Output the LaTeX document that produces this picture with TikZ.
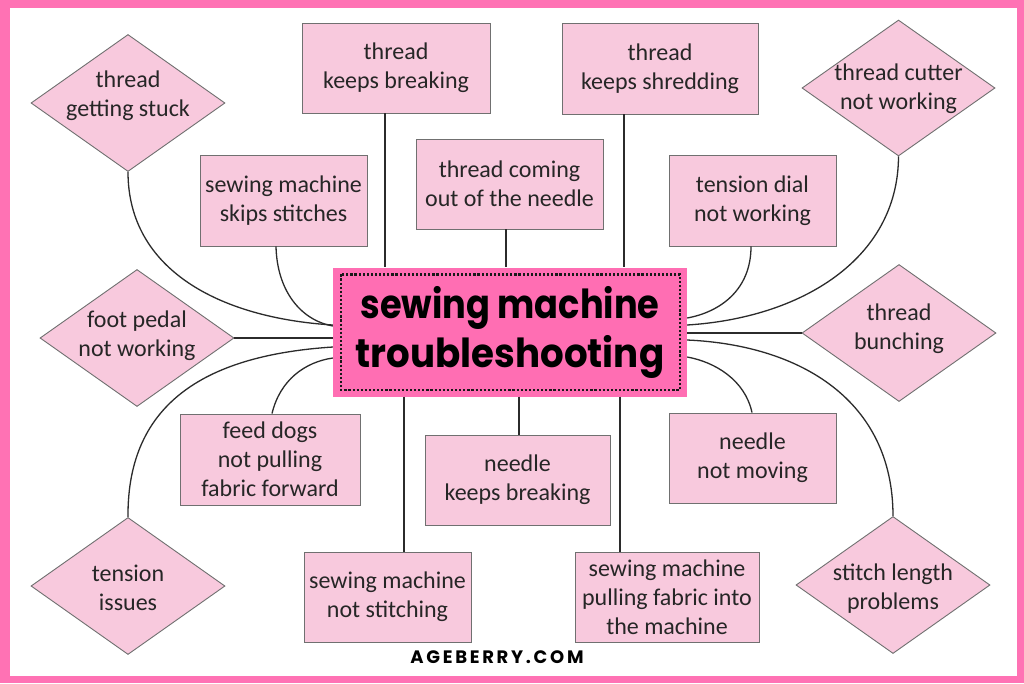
\documentclass[tikz,border=0pt]{standalone}
\usepackage{fontspec}
\usepackage{graphicx}
\setmainfont{Carlito}
\newfontfamily\titlefont{Poppins}
\usetikzlibrary{shapes.geometric}
\definecolor{framepink}{HTML}{FF72B4}
\definecolor{boxpink}{HTML}{FF6EB3}
\definecolor{nodepink}{HTML}{F8C9DD}
\definecolor{edgegray}{HTML}{707070}
\definecolor{linegray}{HTML}{2B2B2B}
\definecolor{txt}{HTML}{262626}
\tikzset{
  rbox/.style={draw=edgegray, line width=0.9pt, fill=nodepink, inner sep=0pt,
    align=center, text=txt, font=\fontsize{24}{29}\selectfont},
  dbox/.style={diamond, draw=edgegray, line width=0.9pt, fill=nodepink, inner sep=0pt,
    minimum width=194pt, minimum height=137pt},
  dlab/.style={align=center, text=txt, font=\fontsize{24}{29}\selectfont},
  conn/.style={draw=linegray, line width=1.3pt},
  mainbox/.style={fill=boxpink, inner sep=0pt, minimum width=354pt, minimum height=129pt,
    align=center, text=black, font=\titlefont\bfseries\fontsize{40}{50}\selectfont},
  dots/.style={draw=black!90, line width=2.4pt, dash pattern=on 2.2pt off 1.9pt}
}
\begin{document}
\begin{tikzpicture}[x=1pt,y=-1pt]
\useasboundingbox (0,0) rectangle (1024,683);
\fill[framepink] (0,0) rectangle (1024,683);
\fill[white] (10,8) rectangle (1017,676);

% central node
\node[mainbox] (main) at (510,332)
  {\scalebox{0.88}[1]{sewing machine}\\[-1pt]\scalebox{0.93}[1]{troubleshooting}};
\draw[dots] ([shift={(8,7)}]main.north west) rectangle ([shift={(-7,-7)}]main.south east);

% rectangles
\node[rbox, minimum width=188pt, minimum height=90pt] (tkb) at (396,68) {thread\\keeps breaking};
\node[rbox, minimum width=196pt, minimum height=91pt] (tks) at (660,68.5) {thread\\keeps shredding};
\node[rbox, minimum width=167pt, minimum height=91pt] (ssk) at (283.5,200.5) {sewing machine\\skips stitches};
\node[rbox, minimum width=187pt, minimum height=90pt] (tco) at (509.5,184) {thread coming\\out of the needle};
\node[rbox, minimum width=167pt, minimum height=91pt] (tdn) at (752.5,200.5) {tension dial\\not working};
\node[rbox, minimum width=180pt, minimum height=91pt] (fdg) at (270,459.5) {feed dogs\\not pulling\\fabric forward};
\node[rbox, minimum width=185pt, minimum height=90pt] (nkb) at (517.5,480) {needle\\keeps breaking};
\node[rbox, minimum width=167pt, minimum height=90pt] (nnm) at (752.5,458) {needle\\not moving};
\node[rbox, minimum width=167pt, minimum height=90pt] (sns) at (387.5,597) {sewing machine\\not stitching};
\node[rbox, minimum width=184pt, minimum height=90pt] (spf) at (667,597) {sewing machine\\pulling fabric into\\the machine};

% diamonds
\node[dbox] (tgs) at (128,103) {};
\node[dlab] (tgsl) at (128,96) {thread\\getting stuck};
\node[dbox, minimum width=193pt, minimum height=136pt] (tcn) at (898.5,88) {};
\node[dlab] (tcnl) at (898.5,89) {thread cutter\\not working};
\node[dbox] (fpn) at (137,338) {};
\node[dlab] (fpnl) at (137,336) {foot pedal\\not working};
\node[dbox] (tbn) at (899,333) {};
\node[dlab] (tbnl) at (899,328.5) {thread\\bunching};
\node[dbox] (tis) at (128,586) {};
\node[dlab] (tisl) at (128,588) {tension\\issues};
\node[dbox] (slp) at (893,585) {};
\node[dlab] (slpl) at (893,588.5) {stitch length\\problems};

% straight vertical connectors
\draw[conn] (385,0 |- tkb.south) -- (385,0 |- main.north);
\draw[conn] (506,0 |- tco.south) -- (506,0 |- main.north);
\draw[conn] (624,0 |- tks.south) -- (624,0 |- main.north);
\draw[conn] (519,0 |- main.south) -- (519,0 |- nkb.north);
\draw[conn] (404,0 |- main.south) -- (404,0 |- sns.north);
\draw[conn] (620,0 |- main.south) -- (620,0 |- spf.north);

% horizontal connectors
\draw[conn] (fpn.east) -- (main.west |- fpn.east);
\draw[conn] (tbn.west) -- (main.east |- tbn.west);

% curved connectors left
\draw[conn] (tgs.south) .. controls (128,270) and (220,318) .. (main.west |- 0,325);
\draw[conn] (276,0 |- ssk.south) .. controls (277,290) and (300,320) .. (main.west |- 0,326);
\draw[conn] (tis.north) .. controls (127,400) and (210,355) .. (main.west |- 0,347);
\draw[conn] (272,0 |- fdg.north) .. controls (280,380) and (305,362) .. (main.west |- 0,358);

% curved connectors right
\draw[conn] (751,0 |- tdn.south) .. controls (751,290) and (720,312) .. (main.east |- 0,318);
\draw[conn] (tcn.south) .. controls (898,260) and (800,318) .. (main.east |- 0,325);
\draw[conn] (slp.north) .. controls (893,400) and (800,345) .. (main.east |- 0,340);
\draw[conn] (752,0 |- nnm.north) .. controls (745,380) and (715,362) .. (main.east |- 0,357);

% footer
\node[text=black] (site) at (497,657)
  {\titlefont\bfseries\addfontfeature{LetterSpace=15}\fontsize{18}{20}\selectfont AGEBERRY.COM};
\end{tikzpicture}
\end{document}
